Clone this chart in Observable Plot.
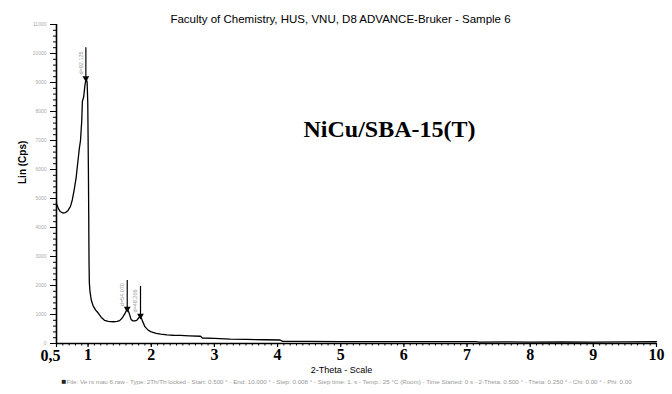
<!DOCTYPE html>
<html>
<head>
<meta charset="utf-8">
<script src="https://cdn.jsdelivr.net/npm/d3@7"></script>
<script src="https://cdn.jsdelivr.net/npm/@observablehq/plot@0.6"></script>
<style>
  body { margin: 0; background: #fff; }
  svg { display: block; }
</style>
</head>
<body>
<div id="chart"></div>
<script>
const title = "Faculty of Chemistry, HUS, VNU, D8 ADVANCE-Bruker - Sample 6";
const sampleLabel = "NiCu/SBA-15(T)";
const xLabel = "2-Theta - Scale";
const yLabel = "Lin (Cps)";
const footer = "File: Ve rs mau 6.raw - Type: 2Th/Th locked - Start: 0.500 ° - End: 10.000 ° - Step: 0.008 ° - Step time: 1. s - Temp.: 25 °C (Room) - Time Started: 0 s - 2-Theta: 0.500 ° - Theta: 0.250 ° - Chi: 0.00 ° - Phi: 0.00";

const twoTheta = [0.50,0.53,0.56,0.60,0.64,0.68,0.72,0.75,0.78,0.81,0.84,0.86,0.88,0.90,0.91,0.93,0.95,0.97,0.985,0.995,1.005,1.01,1.015,1.02,1.03,1.05,1.08,1.12,1.16,1.21,1.26,1.32,1.40,1.46,1.50,1.54,1.58,1.62,1.65,1.68,1.71,1.74,1.77,1.80,1.83,1.86,1.90,1.95,2.00,2.08,2.15,2.25,2.35,2.46,2.60,2.78,2.81,3.00,3.25,3.50,3.80,4.04,4.08,4.5,5,5.5,6,6.5,7.13,7.2,7.6,8,8.5,9,9.5,10];
const counts   = [4830,4650,4550,4500,4510,4580,4720,4950,5300,5700,6300,6700,7000,7700,8350,8500,8900,9150,9000,8300,6000,4500,2800,2100,1800,1500,1300,1150,1050,900,800,760,750,760,790,880,1020,1200,1050,830,780,780,800,880,960,780,580,460,400,350,320,300,285,280,265,250,190,175,150,140,130,120,75,70,68,66,65,64,63,50,55,48,52,50,55,60];

const peakTheta = [0.965, 1.62, 1.83];
const peakTop   = [9150, 1200, 960];
const peakLine  = [10200, 2170, 1970];
const peakNames = ["d=92.125", "d=54.070", "d=48.206"];

const xTickValues = [1,2,3,4,5,6,7,8,9,10];
const yTickValues = d3.range(0, 11001, 1000);

const data = twoTheta.map((t, i) => ({t, c: counts[i]}));
const peaks = peakTheta.map((t, i) => ({t, top: peakTop[i], line: peakLine[i], name: peakNames[i]}));

const sans = "Liberation Sans, Arial, sans-serif";
const serif = "Liberation Serif, Times New Roman, serif";

const chart = Plot.plot({
  width: 672,
  height: 394,
  marginTop: 24,
  marginBottom: 51,
  marginLeft: 56,
  marginRight: 16,
  style: {fontFamily: sans, background: "#fff"},
  x: {domain: [0.5, 10]},
  y: {domain: [0, 11000]},
  marks: [
    // minor ticks
    Plot.axisX({ticks: d3.range(5, 101).map(d => d / 10), tickSize: 2.5, text: null, label: null, strokeWidth: 1}),
    Plot.axisY({ticks: d3.range(0, 11001, 200), tickSize: 3, text: null, label: null, strokeWidth: 1}),
    // major ticks
    Plot.axisX({ticks: [0.5, ...xTickValues], tickSize: 4, text: null, label: null, strokeWidth: 1.2}),
    Plot.axisY({ticks: yTickValues, tickSize: 6, tickPadding: 4, tickFormat: d => String(d), fontSize: 5, fill: "#aaa", color: "#aaa", stroke: "black", label: null}),
    // bold x tick labels
    Plot.text(xTickValues, {x: d => d, frameAnchor: "bottom", dy: 16, text: d => String(d), fontFamily: serif, fontWeight: "bold", fontSize: 16, fill: "black"}),
    Plot.text(["0,5"], {x: 0.5, frameAnchor: "bottom", dy: 17, dx: 4, textAnchor: "end", text: d => d, fontFamily: serif, fontWeight: "bold", fontSize: 16, fill: "black"}),
    // axis lines
    Plot.ruleY([0], {stroke: "black", strokeWidth: 1.6}),
    Plot.ruleX([0.5], {stroke: "black", strokeWidth: 1.6}),
    // pattern
    Plot.line(data, {x: "t", y: "c", stroke: "black", strokeWidth: 1.3, curve: "linear"}),
    // peak markers
    Plot.ruleX(peaks, {x: "t", y1: "top", y2: "line", stroke: "black", strokeWidth: 1.2}),
    Plot.dot(peaks, {x: "t", y: "top", symbol: "triangle", rotate: 180, r: 2.5, fill: "black", stroke: "none"}),
    Plot.text(peaks, {x: "t", y: d => (d.top + d.line) / 2, text: "name", rotate: -90, dx: -5, fontSize: 5.5, fill: "#999"}),
    // titles & labels
    Plot.text([title], {frameAnchor: "top", dx: -16, dy: -10, text: d => d, fontSize: 11.5, fill: "black"}),
    Plot.text([sampleLabel], {frameAnchor: "top-left", dx: 247, dy: 95, textAnchor: "start", text: d => d, fontFamily: serif, fontWeight: "bold", fontSize: 24, fill: "black"}),
    Plot.text([xLabel], {frameAnchor: "bottom", dx: -15, dy: 29, text: d => d, fontSize: 9, fill: "black"}),
    Plot.text([yLabel], {frameAnchor: "left", dx: -34, rotate: -90, text: d => d, fontSize: 10, fontWeight: "bold", fill: "black"}),
    Plot.text(["■"], {frameAnchor: "bottom-left", dx: 5, dy: 40, text: d => d, fontSize: 8, fill: "#222"}),
    Plot.text([footer], {frameAnchor: "bottom-left", dx: 10, dy: 40, textAnchor: "start", text: d => d, fontSize: 6.2, fill: "#999"})
  ]
});
document.getElementById("chart").appendChild(chart);
</script>
</body>
</html>
